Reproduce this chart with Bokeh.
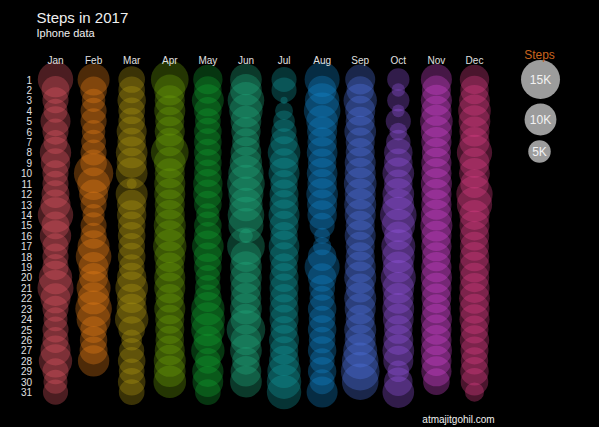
import numpy as np
from bokeh.plotting import figure
from bokeh.models import Range1d, ColumnDataSource, Label
from bokeh.core.properties import value
from bokeh.embed import file_html
from bokeh.resources import INLINE

# ---------------- data ----------------
months = ["Jan", "Feb", "Mar", "Apr", "May", "Jun",
          "Jul", "Aug", "Sep", "Oct", "Nov", "Dec"]

jan = [12400, 7700, 6700, 5700, 8900, 6700, 5700, 9700, 8500, 6700, 6700, 7700, 8900, 12400, 7700, 9700,
       6700, 6700, 6700, 11000, 12800, 8900, 6700, 5700, 6700, 6700, 8900, 11000, 6700, 5700, 6200]
feb = [10100, 7000, 5400, 6700, 6700, 5400, 6000, 6700, 7000, 15300, 10500, 8300, 6700, 4800, 6700, 6700,
       10100, 12500, 8900, 8300, 11400, 10100, 13200, 11400, 7000, 7400, 7700, 9700]
mar = [7000, 7000, 8000, 7000, 7000, 8900, 8000, 9900, 8900, 9900, 1000, 10100, 8500, 8500, 7500, 7500,
       7000, 7500, 6500, 8500, 10500, 8500, 8900, 11000, 7000, 4300, 6200, 7500, 6500, 7500, 6500]
apr = [14000, 9500, 8900, 9500, 8300, 8900, 8000, 14000, 9900, 8900, 9500, 9500, 8900, 8900, 10100, 9500,
       11000, 9500, 8300, 9500, 9500, 8000, 9500, 8300, 8300, 8000, 8900, 10100, 9900, 10500]
may = [8500, 7500, 10100, 7500, 6500, 7500, 7500, 7500, 7500, 7500, 8500, 8500, 7500, 5400, 7500, 7500,
       9900, 8000, 7500, 6200, 6500, 7500, 11000, 11400, 11000, 8000, 11000, 6500, 9700, 9300, 6500]
jun = [9900, 9900, 13200, 11000, 9300, 8500, 7500, 9300, 10300, 12300, 14000, 12100, 11000, 13200, 12100, 1900,
       14000, 9300, 9900, 9900, 9300, 9300, 9900, 9300, 14700, 9300, 9900, 7500, 9300, 9900]
jul = [6200, 6200, 500, 3200, 4600, 6200, 7400, 10500, 8300, 9500, 7400, 8300, 8300, 9500, 8300, 7400,
       9300, 8300, 7400, 8300, 8300, 8000, 8300, 8300, 7400, 8900, 8000, 8900, 11000, 11700, 11700]
aug = [12100, 8000, 11700, 13200, 9900, 8900, 8500, 9300, 8000, 9300, 8500, 9900, 8900, 8500, 6200, 2500,
       3300, 8000, 12100, 8000, 6600, 6200, 8000, 7000, 8000, 7000, 8000, 6200, 8000, 6200, 9500]
sep = [8900, 7400, 11000, 8900, 8300, 9900, 8300, 8300, 9500, 9500, 10500, 9500, 10100, 9500, 8300, 9500,
       8300, 8300, 9500, 10100, 8300, 10100, 9500, 8300, 10100, 9500, 11400, 13200, 14700, 13200]
oct_ = [4900, 1800, 4900, 1600, 6200, 3100, 5900, 8000, 8000, 9900, 8000, 9900, 9900, 13200, 11000, 8000,
        11400, 10500, 9500, 12100, 9900, 9300, 9900, 9300, 8000, 8900, 9900, 8900, 4600, 8000, 9900]
nov = [9500, 8300, 9500, 9000, 10500, 9500, 9000, 8300, 9000, 9000, 9500, 9000, 9000, 9500, 10100, 9000,
       9000, 8300, 9000, 9500, 9000, 8700, 8300, 9500, 9000, 9000, 9500, 9000, 9000, 7000]
dec = [8500, 8000, 9300, 10500, 9900, 8900, 8900, 12300, 8900, 9300, 8000, 13000, 12300, 8900, 8900, 8500,
       8300, 8500, 9300, 8500, 8900, 9300, 8900, 8900, 7700, 8500, 7700, 7400, 8000, 7500, 3600]

steps_by_month = [jan, feb, mar, apr, may, jun, jul, aug, sep, oct_, nov, dec]
month_colors = ["#e85a66", "#ee8218", "#b49c14", "#70a60a", "#14a432", "#22b282",
                "#14a0a2", "#148ad0", "#5277e6", "#9858e6", "#da46da", "#e6428c"]

legend_values = [15000, 10000, 5000]
legend_labels = ["15K", "10K", "5K"]

# ---------------- layout ----------------
W, H = 599, 427
X0, DX = 55.0, 38.09      # pixel of Jan column, column spacing
Y0, DY = 79.0, 10.42      # pixel of day 1, row spacing
MAX_D = 39.0              # diameter (px) of a 15K circle

def px2x(px):
    return 1 + (px - X0) / DX

def py2y(py):
    return 1 + (py - Y0) / DY

def diam(s):
    return MAX_D * np.sqrt(np.asarray(s, dtype=float) / 15000.0)

p = figure(width=W, height=H, output_backend="svg", toolbar_location=None,
           x_range=Range1d(px2x(0), px2x(W)), y_range=Range1d(py2y(H), py2y(0)),
           x_axis_location=None, y_axis_location=None, min_border=0,
           background_fill_color="black", border_fill_color="black",
           outline_line_color=None)
p.grid.visible = False

xs, ys, sz, cl = [], [], [], []
for m, vals in enumerate(steps_by_month, start=1):
    for d, v in enumerate(vals, start=1):
        xs.append(m)
        ys.append(d)
        sz.append(float(diam(v)))
        cl.append(month_colors[m - 1])
src = ColumnDataSource(dict(x=xs, y=ys, size=sz, color=cl))
p.scatter(x="x", y="y", size="size", fill_color="color", fill_alpha=0.32,
          line_color=None, source=src)

font = value("Liberation Sans")
label_col = "#e0e0e0"

# month labels
p.text(x=list(range(1, 13)), y=[py2y(59.5)] * 12, text=months,
       text_align="center", text_baseline="alphabetic", text_color=label_col,
       text_font=font, text_font_size="10px")

# day labels
days = list(range(1, 32))
p.text(x=[px2x(31.5)] * 31, y=days, text=[str(d) for d in days],
       text_align="right", text_baseline="middle", text_color=label_col,
       text_font=font, text_font_size="10px")

# size legend
lx = [px2x(540), px2x(540), px2x(539)]
ly = [py2y(79), py2y(119), py2y(151)]
p.scatter(x=lx, y=ly, size=list(diam(legend_values)), fill_color="#9c9c9c",
          line_color=None)
p.text(x=lx, y=ly, text=legend_labels, text_align="center", text_baseline="middle",
       text_color="#f2f2f2", text_font=font, text_font_size="12px")
p.add_layout(Label(x=539, y=H - 54, x_units="screen", y_units="screen", text="Steps",
                   text_align="center", text_baseline="alphabetic",
                   text_color="#c8641e", text_font="Liberation Sans", text_font_size="12px"))

# titles
p.add_layout(Label(x=36, y=H - 17, x_units="screen", y_units="screen", text="Steps in 2017",
                   text_baseline="alphabetic", text_color="#f0f0f0",
                   text_font="Liberation Sans", text_font_size="15px"))
p.add_layout(Label(x=36, y=H - 32, x_units="screen", y_units="screen", text="Iphone data",
                   text_baseline="alphabetic", text_color="#f0f0f0",
                   text_font="Liberation Sans", text_font_size="11px"))
p.add_layout(Label(x=458, y=H - 419, x_units="screen", y_units="screen", text="atmajitgohil.com",
                   text_align="center", text_baseline="alphabetic", text_color="#f0f0f0",
                   text_font="Liberation Sans", text_font_size="10px"))

html = file_html(p, INLINE)
html = html.replace("<head>", "<head><style>html,body{margin:0;padding:0;background:#000;overflow:hidden}</style>", 1)
open("out.html", "w").write(html)
